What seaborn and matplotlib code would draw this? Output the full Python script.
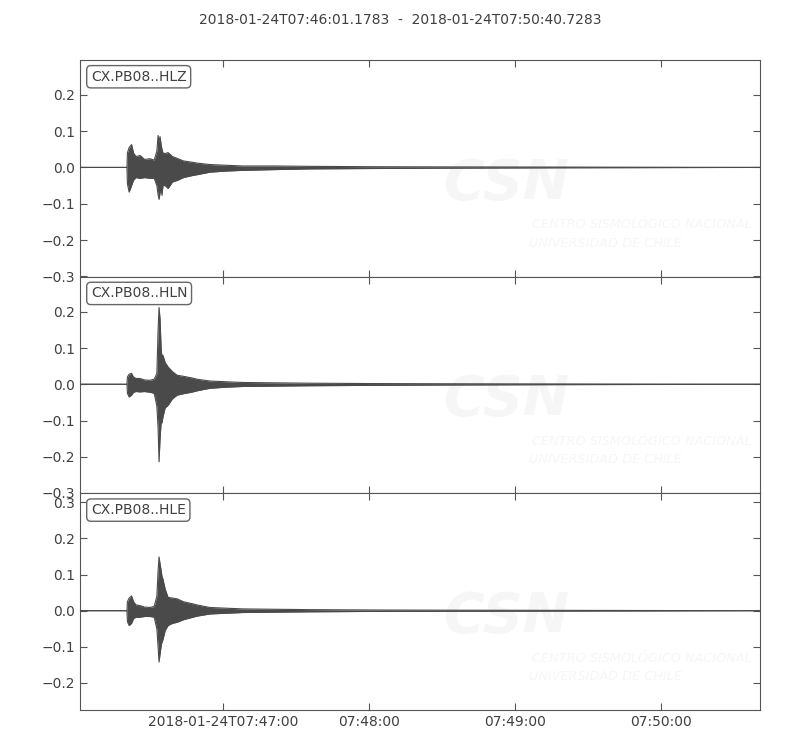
import pandas as pd
import matplotlib
matplotlib.use("Agg")
import matplotlib.pyplot as plt
import seaborn as sns

# trace window
start_time = "2018-01-24T07:46:01.1783"
end_time = "2018-01-24T07:50:40.7283"
channels = ["CX.PB08..HLZ", "CX.PB08..HLN", "CX.PB08..HLE"]

# envelope: seconds after start_time
env_times = [0, 19.3, 19.5, 20.2, 21.2, 22.0, 23.0, 24.7, 26.5, 28.8, 30.5, 31.6, 32.1,
             32.5, 32.9, 33.4, 33.7, 34.1, 35.0, 36.2, 38.0, 39.9, 42.5, 46.4, 48.1,
             53.4, 60, 67, 80, 94.5, 120, 148, 197, 279.55]

hlz_upper = [0, 0, 0.040, 0.055, 0.063, 0.040, 0.030, 0.033, 0.022, 0.024, 0.020, 0.045, 0.088,
             0.070, 0.085, 0.060, 0.050, 0.040, 0.038, 0.041, 0.030, 0.025, 0.018, 0.014, 0.012,
             0.008, 0.006, 0.004, 0.004, 0.003, 0.002, 0.0015, 0.001, 0]
hlz_lower = [0, 0, -0.045, -0.068, -0.050, -0.035, -0.028, -0.030, -0.028, -0.030, -0.030, -0.050, -0.075,
             -0.088, -0.070, -0.060, -0.077, -0.050, -0.050, -0.058, -0.040, -0.036, -0.028, -0.022, -0.020,
             -0.013, -0.010, -0.008, -0.006, -0.004, -0.003, -0.002, -0.001, 0]

hln_upper = [0, 0, 0.020, 0.028, 0.030, 0.020, 0.016, 0.016, 0.012, 0.011, 0.014, 0.030, 0.150,
             0.212, 0.180, 0.090, 0.080, 0.080, 0.060, 0.048, 0.035, 0.025, 0.022, 0.017, 0.014,
             0.009, 0.007, 0.005, 0.004, 0.003, 0.002, 0.0015, 0.001, 0]
hln_lower = [0, 0, -0.025, -0.035, -0.030, -0.022, -0.020, -0.021, -0.020, -0.022, -0.025, -0.060, -0.120,
             -0.214, -0.150, -0.100, -0.107, -0.090, -0.065, -0.058, -0.040, -0.030, -0.026, -0.021, -0.018,
             -0.011, -0.008, -0.006, -0.005, -0.004, -0.003, -0.002, -0.001, 0]

hle_upper = [0, 0, 0.025, 0.035, 0.041, 0.025, 0.016, 0.014, 0.010, 0.009, 0.012, 0.040, 0.110,
             0.149, 0.130, 0.110, 0.095, 0.088, 0.060, 0.037, 0.035, 0.033, 0.025, 0.019, 0.016,
             0.009, 0.007, 0.005, 0.004, 0.003, 0.002, 0.0015, 0.001, 0]
hle_lower = [0, 0, -0.030, -0.041, -0.035, -0.022, -0.018, -0.018, -0.016, -0.016, -0.018, -0.050, -0.100,
             -0.142, -0.120, -0.095, -0.087, -0.080, -0.055, -0.041, -0.035, -0.032, -0.025, -0.018, -0.015,
             -0.009, -0.007, -0.005, -0.004, -0.003, -0.002, -0.0015, -0.001, 0]

y_limits = [(-0.301, 0.296), (-0.301, 0.297), (-0.275, 0.325)]
y_ticks = [[-0.3, -0.2, -0.1, 0.0, 0.1, 0.2],
           [-0.3, -0.2, -0.1, 0.0, 0.1, 0.2],
           [-0.2, -0.1, 0.0, 0.1, 0.2, 0.3]]

tick_times = ["2018-01-24T07:47:00", "2018-01-24T07:48:00", "2018-01-24T07:49:00", "2018-01-24T07:50:00"]
tick_labels = ["2018-01-24T07:47:00", "07:48:00", "07:49:00", "07:50:00"]

sns.set_style("ticks")
plt.rcParams['font.family'] = ['DejaVu Sans']
text_color = "#404040"
wave_color = "#4a4a4a"
mark_color = "#f6f6f6"
plt.rcParams.update({
    "text.color": text_color, "axes.edgecolor": "#555555",
    "xtick.color": "#555555", "ytick.color": "#555555",
    "xtick.labelcolor": text_color, "ytick.labelcolor": text_color,
    "xtick.direction": "in", "ytick.direction": "in",
    "xtick.top": True, "ytick.right": True,
    "xtick.major.size": 5, "ytick.major.size": 5,
    "xtick.labelsize": 10, "ytick.labelsize": 10,
})

t0 = pd.Timestamp(start_time)
times = t0 + pd.to_timedelta(env_times, unit="s")
traces = [(hlz_upper, hlz_lower), (hln_upper, hln_lower), (hle_upper, hle_lower)]

fig, axs = plt.subplots(nrows=3, figsize=(8, 7.5), dpi=100, sharex=True)
fig.subplots_adjust(left=0.1, right=0.95, top=0.92, bottom=0.0533, hspace=0)

for idx, ax in enumerate(axs):
    upper, lower = traces[idx]
    # faint CSN watermark
    ax.text(0.628, 0.43, "CSN", transform=ax.transAxes, fontsize=40, fontweight="bold",
            style="italic", color=mark_color, ha="center", va="center", zorder=0, clip_on=True)
    ax.text(0.665, 0.24, "CENTRO SISMOLÓGICO NACIONAL", transform=ax.transAxes, fontsize=9.3,
            style="italic", color=mark_color, ha="left", va="center", zorder=0, clip_on=True)
    ax.text(0.66, 0.155, "UNIVERSIDAD DE CHILE", transform=ax.transAxes, fontsize=9.3,
            style="italic", color=mark_color, ha="left", va="center", zorder=0, clip_on=True)

    ax.fill_between(times, lower, upper, color=wave_color, lw=0, zorder=2)
    sns.lineplot(x=times, y=upper, ax=ax, color=wave_color, lw=0.8, zorder=3)
    sns.lineplot(x=times, y=lower, ax=ax, color=wave_color, lw=0.8, zorder=3)

    ax.set_ylim(*y_limits[idx])
    ax.set_yticks(y_ticks[idx])
    ax.set_xlim(pd.Timestamp(start_time), pd.Timestamp(end_time))
    ax.set_ylabel("")
    ax.text(0.016, 0.955, channels[idx], transform=ax.transAxes, fontsize=10, va="top", ha="left",
            color=text_color,
            bbox=dict(boxstyle="round,pad=0.3", fc="white", ec="#666666", lw=1.0), zorder=5)

axs[-1].set_xticks(pd.to_datetime(tick_times))
axs[-1].set_xticklabels(tick_labels)
axs[-1].set_xlabel("")

fig.suptitle(f"{start_time}  -  {end_time}", y=0.983, fontsize=10, color=text_color)
fig.savefig("out.png", dpi=100)
